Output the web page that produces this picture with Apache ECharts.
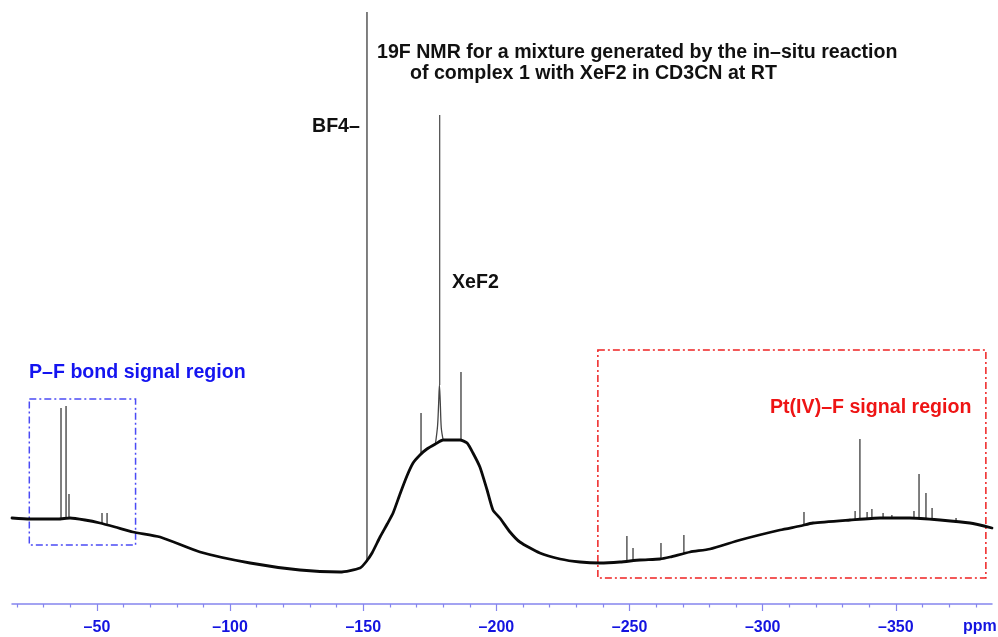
<!DOCTYPE html>
<html>
<head>
<meta charset="utf-8">
<script src="https://cdn.jsdelivr.net/npm/echarts@6/dist/echarts.min.js"></script>
<style>
  html, body { margin: 0; padding: 0; background: #fff; }
  #chart { width: 998px; height: 637px; }
</style>
</head>
<body>
<div id="chart"></div>
<script>
// 19F NMR spectrum: broad baseline trace (ppm, intensity in arbitrary units)
const baselinePpm = [-18.1, -24.8, -35.4, -39.9, -45.5, -51.1, -56.8, -63.5, -73.7, -88.7,
  -107.5, -126.2, -141.3, -148.8, -151.0, -153.3, -156.3, -159.0, -161.2, -163.8, -166.4,
  -168.7, -171.3, -173.9, -177.1, -180.0, -183.7, -186.3, -189.0, -191.2, -193.8, -196.5,
  -198.7, -201.3, -205.1, -208.8, -216.3, -223.9, -231.4, -238.9, -246.4, -253.9, -261.4,
  -265.2, -272.7, -280.2, -291.5, -306.5, -314.0, -318.9, -332.8, -344.0, -355.3, -366.6,
  -377.8, -386.1];
const baselineInt = [86, 85, 85, 86, 84, 81, 77, 72, 67, 52,
  41, 34, 32, 36, 42, 51, 67, 80, 91, 110, 128,
  141, 149, 155, 160, 164, 164, 164, 161, 151, 137, 114,
  94, 86, 72, 62, 51, 45, 42, 41, 42, 44, 45,
  47, 52, 55, 64, 74, 78, 81, 84, 86, 86, 84,
  81, 76];

// Broad XeF2 resonance riding on the hump
const xef2Ppm = [-177.1, -177.9, -178.3, -178.6, -178.9, -179.3, -180.0];
const xef2Int = [160, 178, 200, 219, 203, 176, 164];

// Sharp signals: position, top intensity, intensity at the foot
const peakPpm  = [-36.5, -38.4, -39.5, -51.9, -53.8, -151.4, -171.7, -178.7, -186.7,
  -249.0, -251.3, -261.8, -270.4, -315.5, -334.7, -336.5, -339.2, -341.0, -345.2,
  -348.5, -356.8, -358.7, -361.3, -363.6, -372.6];
const peakTop  = [196, 198, 110, 91, 91, 592, 191, 489, 232,
  68, 56, 61, 69, 92, 93, 165, 92, 95, 91,
  89, 93, 130, 111, 96, 86];
const peakFoot = [86, 86, 86, 81, 80, 42, 149, 219, 164,
  42, 43, 45, 50, 79, 84, 84, 85, 85, 86,
  86, 86, 86, 85, 85, 83];

// Axis ticks
const majorTicks = [-50, -100, -150, -200, -250, -300, -350];
const minorTicks = [-20, -30, -40, -60, -70, -80, -90, -110, -120, -130, -140, -160, -170, -180, -190,
  -210, -220, -230, -240, -260, -270, -280, -290, -310, -320, -330, -340, -360, -370, -380];

// Highlighted regions: [ppm start, ppm end, intensity low, intensity high]
const pfRegion = [-24.6, -64.5, 59, 205];
const ptRegion = [-238.1, -383.8, 26, 254];

const FONT = "'Liberation Sans', Arial, Helvetica, sans-serif";
const TEXT_FONT = 'bold 19.6px ' + FONT;

const baseline = baselinePpm.map((p, i) => [p, baselineInt[i]]);
const xef2 = xef2Ppm.map((p, i) => [p, xef2Int[i]]);
const peaks = [];
peakPpm.forEach((p, i) => {
  peaks.push([p, peakFoot[i]], [p, peakTop[i]], [p, peakFoot[i]], [p, '-']);
});

function regionArea(r, color) {
  return [
    { xAxis: r[0], yAxis: r[3],
      itemStyle: { color: 'rgba(0,0,0,0)', borderColor: color, borderWidth: 1.5, borderType: [7, 3, 2, 3] } },
    { xAxis: r[1], yAxis: r[2] }
  ];
}

const chart = echarts.init(document.getElementById('chart'), null, { renderer: 'canvas' });
const axisCommon = {
  type: 'value', inverse: true, min: -386.1, max: -18.1,
  splitLine: { show: false }
};
chart.setOption({
  animation: false,
  grid: { left: 12, right: 6, top: 10, bottom: 33 },
  xAxis: [
    Object.assign({}, axisCommon, {
      position: 'bottom',
      axisLine: { show: true, lineStyle: { color: '#8585ee', width: 1.5 } },
      axisTick: { show: true, length: 7, customValues: majorTicks, lineStyle: { color: '#8585ee', width: 1.2 } },
      axisLabel: {
        show: true, customValues: majorTicks, margin: 16,
        color: '#1414e0', fontFamily: FONT, fontWeight: 'bold', fontSize: 16,
        formatter: v => '\u2013' + Math.abs(v)
      }
    }),
    Object.assign({}, axisCommon, {
      position: 'bottom',
      axisLine: { show: false },
      axisTick: { show: true, length: 3.5, customValues: minorTicks, lineStyle: { color: '#8585ee', width: 1.2 } },
      axisLabel: { show: false }
    })
  ],
  yAxis: { type: 'value', min: 0, max: 594, show: false },
  series: [
    {
      name: 'signals', type: 'line', data: peaks, showSymbol: false,
      connectNulls: false, lineStyle: { color: '#555', width: 1 }, z: 2
    },
    {
      name: 'XeF2 broad', type: 'line', data: xef2, showSymbol: false, smooth: 0.3,
      lineStyle: { color: '#444', width: 1.3 }, z: 2
    },
    {
      name: 'spectrum', type: 'line', data: baseline, showSymbol: false, smooth: 0.2,
      lineStyle: { color: '#0a0a0a', width: 2.8, join: 'round', cap: 'round' }, z: 3,
      markArea: { silent: true, data: [regionArea(pfRegion, '#4b4bf5'), regionArea(ptRegion, '#ee2222')] }
    }
  ],
  graphic: [
    { type: 'text', left: 377, top: 43, style: { text: '19F NMR for a mixture generated by the in\u2013situ reaction', font: TEXT_FONT, fill: '#111' } },
    { type: 'text', left: 410, top: 64, style: { text: 'of complex 1 with XeF2 in CD3CN at RT', font: TEXT_FONT, fill: '#111' } },
    { type: 'text', left: 312, top: 117, style: { text: 'BF4\u2013', font: TEXT_FONT, fill: '#111' } },
    { type: 'text', left: 452, top: 273, style: { text: 'XeF2', font: TEXT_FONT, fill: '#111' } },
    { type: 'text', left: 29, top: 363, style: { text: 'P\u2013F bond signal region', font: TEXT_FONT, fill: '#1414f0' } },
    { type: 'text', left: 770, top: 398, style: { text: 'Pt(IV)\u2013F signal region', font: TEXT_FONT, fill: '#ee1414' } },
    { type: 'text', left: 963, top: 619, style: { text: 'ppm', font: 'bold 16px ' + FONT, fill: '#1414e0' } }
  ]
});
</script>
</body>
</html>
